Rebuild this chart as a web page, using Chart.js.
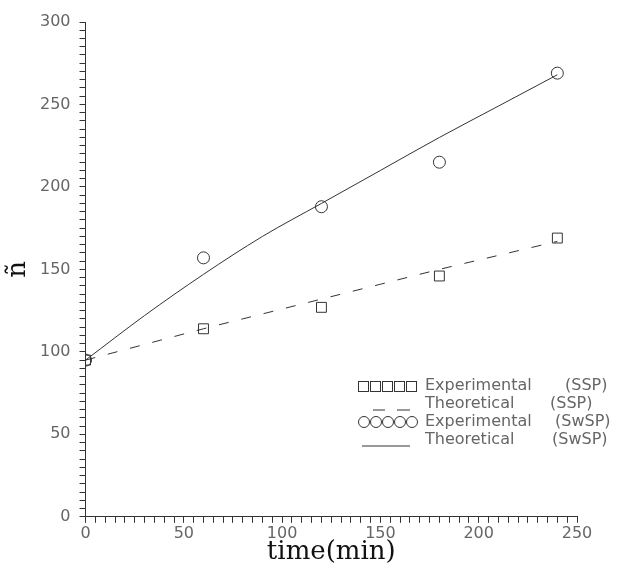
<!DOCTYPE html>
<html>
<head>
<meta charset="utf-8">
<script src="https://cdn.jsdelivr.net/npm/chart.js@4/dist/chart.umd.min.js"></script>
<style>
html,body{margin:0;padding:0;background:#fff;}
#wrap{width:619px;height:567px;}
</style>
</head>
<body>
<div id="wrap"><canvas id="c" width="619" height="567"></canvas></div>
<script>
// ---- data ----
const timeExp = [0, 60, 120, 180, 240];
const sspExp = [95, 114, 127, 146, 169];
const swspExp = [95, 157, 188, 215, 269];
const timeTheo = [0, 30, 60, 90, 120, 150, 180, 210, 240];
const sspTheo = [95, 104.5, 114, 123, 132, 141, 150, 158.5, 167];
const swspTheo = [95, 122, 147, 170, 190, 210, 230, 249, 268];
const legendNames = ['Experimental', 'Theoretical', 'Experimental', 'Theoretical'];
const legendTags = ['(SSP)', '(SSP)', '(SwSP)', '(SwSP)'];
const xTitle = 'time(min)';
const yTitle = 'ñ';

const pts = (xs, ys) => xs.map((x, i) => ({x: x, y: ys[i]}));
const INK = '#333';
const TXT = '#666';
const SANS = "'DejaVu Sans', sans-serif";

const legendPlugin = {
  id: 'customLegend',
  afterDraw(chart) {
    const ctx = chart.ctx;
    ctx.save();
    const rowsY = [386, 404, 422, 440];
    const tagX = [565, 550, 555, 552];
    ctx.font = "16px " + SANS;
    ctx.fillStyle = TXT;
    ctx.textBaseline = 'middle';
    ctx.textAlign = 'left';
    rowsY.forEach((y, i) => {
      ctx.fillText(legendNames[i], 425, y);
      ctx.fillText(legendTags[i], tagX[i], y);
    });
    ctx.strokeStyle = INK;
    ctx.lineWidth = 1;
    // squares
    for (let k = 0; k < 5; k++) {
      ctx.strokeRect(358.5 + k * 12, rowsY[0] - 4.5, 10, 10);
    }
    // dashed
    ctx.beginPath();
    ctx.moveTo(373, rowsY[1] + 6); ctx.lineTo(385, rowsY[1] + 6);
    ctx.moveTo(397, rowsY[1] + 6); ctx.lineTo(410, rowsY[1] + 6);
    ctx.stroke();
    // circles
    for (let k = 0; k < 5; k++) {
      ctx.beginPath();
      ctx.arc(364 + k * 12, rowsY[2], 5.5, 0, Math.PI * 2);
      ctx.stroke();
    }
    // solid
    ctx.beginPath();
    ctx.moveTo(362, rowsY[3] + 6); ctx.lineTo(410, rowsY[3] + 6);
    ctx.stroke();
    ctx.restore();
  }
};

new Chart(document.getElementById('c'), {
  type: 'scatter',
  data: {
    datasets: [
      {label: 'Theoretical (SSP)', data: pts(timeTheo, sspTheo), showLine: true, borderColor: INK, borderWidth: 1, borderDash: [10, 13], pointRadius: 0, cubicInterpolationMode: 'monotone', fill: false},
      {label: 'Theoretical (SwSP)', data: pts(timeTheo, swspTheo), showLine: true, borderColor: INK, borderWidth: 1, pointRadius: 0, cubicInterpolationMode: 'monotone', fill: false},
      {label: 'Experimental (SSP)', data: pts(timeExp, sspExp), showLine: false, pointStyle: 'rect', pointRadius: 7, borderColor: INK, borderWidth: 1, backgroundColor: 'rgba(0,0,0,0)'},
      {label: 'Experimental (SwSP)', data: pts(timeExp, swspExp), showLine: false, pointStyle: 'circle', pointRadius: 6, borderColor: INK, borderWidth: 1, backgroundColor: 'rgba(0,0,0,0)'}
    ]
  },
  options: {
    responsive: false,
    animation: false,
    events: [],
    layout: {padding: {top: 22, right: 42, bottom: 2, left: 5}},
    plugins: {legend: {display: false}, tooltip: {enabled: false}},
    scales: {
      x: {
        type: 'linear', min: 0, max: 250,
        border: {display: true, color: INK, width: 1},
        grid: {display: true, drawOnChartArea: false, drawTicks: true, tickLength: 6, color: INK},
        ticks: {stepSize: 5, autoSkip: false, maxTicksLimit: 100, maxRotation: 0, padding: 1, color: TXT,
          font: {family: SANS, size: 16},
          callback: v => (v % 50 === 0 ? String(v) : '')},
        title: {display: true, text: xTitle, color: '#111', padding: {top: -5, bottom: 0},
          font: {family: "'DejaVu Serif', serif", size: 26, lineHeight: 1}}
      },
      y: {
        type: 'linear', min: 0, max: 300,
        border: {display: true, color: INK, width: 1},
        grid: {display: true, drawOnChartArea: false, drawTicks: true, tickLength: 6, color: INK},
        ticks: {stepSize: 5, autoSkip: false, maxTicksLimit: 100, padding: 9, color: TXT,
          font: {family: SANS, size: 16},
          callback: v => (v % 50 === 0 ? String(v) : '')},
        title: {display: true, text: yTitle, color: '#111', padding: {top: 0, bottom: 0},
          font: {family: "'DejaVu Serif', serif", size: 26, lineHeight: 1}}
      }
    }
  },
  plugins: [legendPlugin]
});
</script>
</body>
</html>
